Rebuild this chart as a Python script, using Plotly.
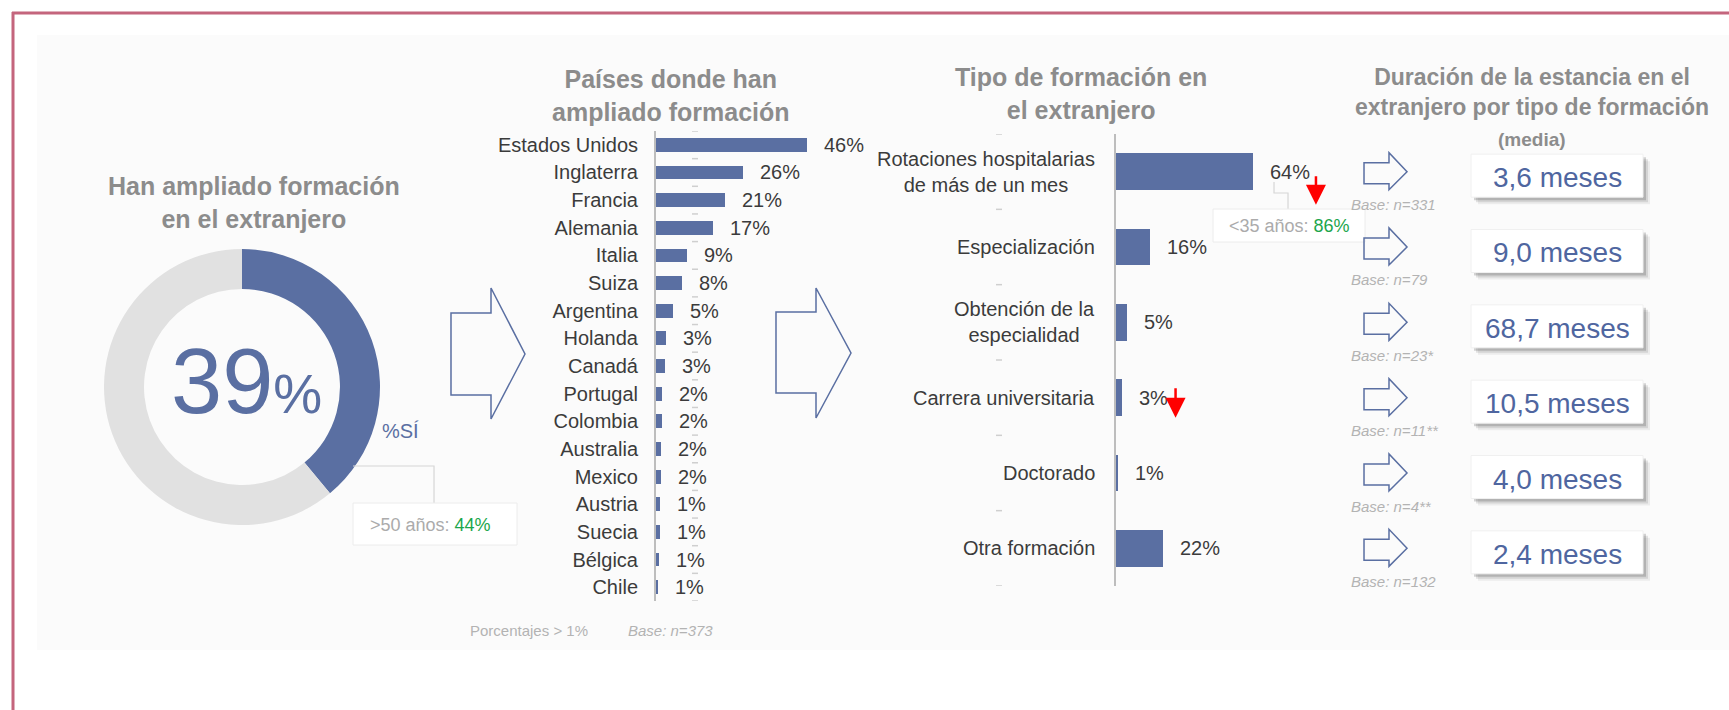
import plotly.graph_objects as go

W, H = 1729, 710

# ---- datos ----
donut_labels = ["Sí", "No"]
donut_valores = [39, 61]
mayores50_pct = 44
menores35_pct = 86

paises = ["Estados Unidos", "Inglaterra", "Francia", "Alemania", "Italia", "Suiza",
          "Argentina", "Holanda", "Canadá", "Portugal", "Colombia", "Australia",
          "Mexico", "Austria", "Suecia", "Bélgica", "Chile"]
paises_pct = [46, 26.4, 20.9, 17.3, 9.3, 7.9, 5.3, 3.1, 2.6, 1.8, 1.8, 1.6, 1.6,
              1.2, 1.1, 0.8, 0.7]
base_paises = "n=373"

tipos = ["Rotaciones hospitalarias<br>de más de un mes", "Especialización",
         "Obtención de la<br>especialidad", "Carrera universitaria", "Doctorado",
         "Otra formación"]
tipos_pct = [64, 15.9, 5.1, 2.6, 0.9, 22]

duracion_meses = [3.6, 9.0, 68.7, 10.5, 4.0, 2.4]
duracion_base = ["n=331", "n=79", "n=23*", "n=11**", "n=4**", "n=132"]

# ---- estilo ----
FONT = "Liberation Sans, Arial, sans-serif"
AZUL = "#5a6fa2"
GRIS_DONUT = "#e1e1e1"
TITULO = "#8c8c8c"
TEXTO = "#3b3b3b"
GRIS_NOTA = "#b3b3b3"
VERDE = "#1ca64c"
ROJO = "#ff0000"
BORDE = "#c4657d"


def px(x):
    return x / W


def py(y):
    return 1 - y / H


# geometria de los ejes (pixeles)
Y1_TOP, Y1_BOT = 131, 601
Y2_TOP, Y2_BOT = 134, 586
X1_0, X2_0 = 656, 1116

fig = go.Figure()

# donut
fig.add_trace(go.Pie(
    labels=donut_labels, values=donut_valores, hole=0.71, sort=False,
    direction="clockwise", rotation=0,
    marker=dict(colors=[AZUL, GRIS_DONUT], line=dict(width=0)),
    textinfo="none", hoverinfo="skip", showlegend=False,
    domain=dict(x=[px(104), px(380)], y=[py(525), py(249)]),
))

# barras paises
fig.add_trace(go.Bar(
    x=paises_pct, y=list(range(len(paises))), orientation="h", width=0.5,
    marker=dict(color=AZUL, line=dict(width=0)), xaxis="x", yaxis="y",
    hoverinfo="skip", showlegend=False,
))

# barras tipo de formacion
fig.add_trace(go.Bar(
    x=tipos_pct, y=list(range(len(tipos))), orientation="h", width=0.49,
    marker=dict(color=AZUL, line=dict(width=0)), xaxis="x2", yaxis="y2",
    hoverinfo="skip", showlegend=False,
))

shapes = []
ann = []

# fondo y borde
shapes.append(dict(type="rect", xref="paper", yref="paper", layer="below",
                   x0=px(37), x1=px(1729), y0=py(650), y1=py(35),
                   fillcolor="#fbfbfb", line=dict(width=0)))
shapes.append(dict(type="line", xref="paper", yref="paper", x0=px(12), x1=1,
                   y0=py(13), y1=py(13), line=dict(color=BORDE, width=3)))
shapes.append(dict(type="line", xref="paper", yref="paper", x0=px(13), x1=px(13),
                   y0=0, y1=py(12), line=dict(color=BORDE, width=3)))


def flecha(x0, xb, xt, yc, hb0, hb1, hh0, hh1, color=AZUL, w=1.5):
    pts = [(x0, yc - hb0), (xb, yc - hb0), (xb, yc - hh0), (xt, yc),
           (xb, yc + hh1), (xb, yc + hb1), (x0, yc + hb1)]
    path = "M " + " L ".join(f"{px(a):.5f},{py(b):.5f}" for a, b in pts) + " Z"
    return dict(type="path", xref="paper", yref="paper", path=path,
                line=dict(color=color, width=w), fillcolor="rgba(0,0,0,0)")


# flechas grandes
shapes.append(flecha(451, 491, 525, 354, 41, 41, 66, 65))
shapes.append(flecha(776, 816, 851, 353, 41, 40, 65, 65))

# titulos
def titulo(texto, x, y, size=25):
    ann.append(dict(xref="paper", yref="paper", x=px(x), y=py(y), text=f"<b>{texto}</b>",
                    showarrow=False, xanchor="center", yanchor="middle",
                    font=dict(family=FONT, size=size, color=TITULO)))


titulo("Han ampliado formación<br>en el extranjero", 254, 202)
titulo("Países donde han<br>ampliado formación", 671, 95)
titulo("Tipo de formación en<br>el extranjero", 1081, 93)
titulo("Duración de la estancia en el<br>extranjero por tipo de formación", 1532, 92, 23)
titulo("(media)", 1532, 140, 19)

# donut textos
ann.append(dict(xref="paper", yref="paper", x=px(246), y=py(381),
                text=f"{donut_valores[0]}<span style='font-size:55px'>%</span>",
                showarrow=False, xanchor="center", yanchor="middle",
                font=dict(family=FONT, size=92, color=AZUL)))
ann.append(dict(xref="paper", yref="paper", x=px(380), y=py(431), text="%SÍ",
                showarrow=False, xanchor="left", yanchor="middle",
                font=dict(family=FONT, size=20, color=AZUL)))

# callout >50
shapes.append(dict(type="path", xref="paper", yref="paper",
                   path=f"M {px(353)},{py(466)} L {px(434)},{py(466)} L {px(434)},{py(503)}",
                   line=dict(color="#d6d6d6", width=1.2)))
shapes.append(dict(type="rect", xref="paper", yref="paper", x0=px(353), x1=px(517),
                   y0=py(545), y1=py(503), fillcolor="white",
                   line=dict(color="#ececec", width=1)))
ann.append(dict(xref="paper", yref="paper", x=px(368), y=py(525),
                text=f"&gt;50 años: <span style='color:{VERDE}'>{mayores50_pct}%</span>",
                showarrow=False, xanchor="left", yanchor="middle",
                font=dict(family=FONT, size=18, color="#ababab")))

# etiquetas barras paises
for i, v in enumerate(paises_pct):
    ann.append(dict(xref="x", yref="y", x=v, y=i, text=f"{v:.0f}%", showarrow=False,
                    xanchor="left", yanchor="middle", xshift=15,
                    font=dict(family=FONT, size=20, color=TEXTO)))
for i in range(len(paises) + 1):
    shapes.append(dict(type="line", xref="paper", yref="y", x0=px(692), x1=px(698),
                       y0=i - 0.5, y1=i - 0.5, line=dict(color="#cfcfcf", width=1.5)))

ann.append(dict(xref="paper", yref="paper", x=px(468), y=py(630), text="Porcentajes > 1%",
                showarrow=False, xanchor="left", yanchor="middle",
                font=dict(family=FONT, size=15, color=GRIS_NOTA)))
ann.append(dict(xref="paper", yref="paper", x=px(626), y=py(630),
                text=f"<i>Base: {base_paises}</i>",
                showarrow=False, xanchor="left", yanchor="middle",
                font=dict(family=FONT, size=15, color=GRIS_NOTA)))

# etiquetas tipo de formacion
for i, (t, v) in enumerate(zip(tipos, tipos_pct)):
    ann.append(dict(xref="x2", yref="y2", x=0, y=i, text=t, showarrow=False,
                    xanchor="right", yanchor="middle", align="center", xshift=-19,
                    font=dict(family=FONT, size=20, color=TEXTO)))
    ann.append(dict(xref="x2", yref="y2", x=v, y=i, text=f"{v:.0f}%", showarrow=False,
                    xanchor="left", yanchor="middle", xshift=15,
                    font=dict(family=FONT, size=20, color=TEXTO)))
for i in range(len(tipos) + 1):
    shapes.append(dict(type="line", xref="paper", yref="y2", x0=px(996), x1=px(1002),
                       y0=i - 0.5, y1=i - 0.5, line=dict(color="#cfcfcf", width=1.5)))

# flechas rojas (descenso)
for i, dx, dy, ay in [(0, 63, -33, -30), (3, 54, -20, -31)]:
    ann.append(dict(xref="x2", yref="y2", x=tipos_pct[i], y=i, text="", showarrow=True,
                    ax=0, ay=ay, xshift=dx, yshift=dy, arrowhead=2, arrowsize=1.6,
                    arrowwidth=2.5, arrowcolor=ROJO))

# callout <35
shapes.append(dict(type="path", xref="paper", yref="paper",
                   path=(f"M {px(1274)},{py(182)} L {px(1274)},{py(193)} "
                         f"L {px(1288)},{py(193)} L {px(1288)},{py(209)}"),
                   line=dict(color="#d6d6d6", width=1.2)))
shapes.append(dict(type="rect", xref="paper", yref="paper", x0=px(1213), x1=px(1365),
                   y0=py(242), y1=py(209), fillcolor="white",
                   line=dict(color="#ececec", width=1)))
ann.append(dict(xref="paper", yref="paper", x=px(1289), y=py(226),
                text=f"&lt;35 años: <span style='color:{VERDE}'>{menores35_pct}%</span>",
                showarrow=False, xanchor="center", yanchor="middle",
                font=dict(family=FONT, size=18, color="#ababab")))

# panel derecho: duracion media
row = (Y2_BOT - Y2_TOP) / len(tipos)
for i, (m, b) in enumerate(zip(duracion_meses, duracion_base)):
    yc = Y2_TOP + (i + 0.5) * row
    shapes.append(flecha(1364, 1389, 1407, yc, 9, 12, 19, 18))
    ann.append(dict(xref="paper", yref="paper", x=px(1349), y=py(yc + 33),
                    text=f"<i>Base: {b}</i>", showarrow=False, xanchor="left",
                    yanchor="middle", font=dict(family=FONT, size=15, color=GRIS_NOTA)))
    bc = yc + 4
    for off, alpha in [(7, 0.06), (5, 0.1), (3, 0.16)]:
        shapes.append(dict(type="rect", xref="paper", yref="paper",
                           x0=px(1471 + off), x1=px(1643 + off),
                           y0=py(bc + 21.5 + off), y1=py(bc - 21.5 + off),
                           fillcolor=f"rgba(0,0,0,{alpha})", line=dict(width=0)))
    shapes.append(dict(type="rect", xref="paper", yref="paper", x0=px(1471), x1=px(1643),
                       y0=py(bc + 21.5), y1=py(bc - 21.5), fillcolor="white",
                       line=dict(color="#f0f0f0", width=1)))
    ann.append(dict(xref="paper", yref="paper", x=px(1557), y=py(yc + 6),
                    text=f"{m:.1f}".replace(".", ",") + " meses", showarrow=False,
                    xanchor="center", yanchor="middle",
                    font=dict(family=FONT, size=28, color="#4f66a0")))

fig.update_layout(
    width=W, height=H,
    margin=dict(l=0, r=0, t=0, b=0),
    paper_bgcolor="white",
    plot_bgcolor="rgba(0,0,0,0)",
    font=dict(family=FONT, color=TEXTO),
    showlegend=False,
    bargap=0,
    xaxis=dict(domain=[px(X1_0), px(X1_0 + 50 * 3.28)], range=[0, 50], visible=False,
               anchor="y", fixedrange=True),
    yaxis=dict(domain=[py(Y1_BOT), py(Y1_TOP)], range=[len(paises) - 0.5, -0.5],
               tickvals=list(range(len(paises))), ticktext=paises, ticks="",
               ticklabelstandoff=12, tickfont=dict(size=20, color=TEXTO, family=FONT),
               showline=True, linecolor="#bdbdbd", linewidth=2, showgrid=False,
               zeroline=False, anchor="x", fixedrange=True),
    xaxis2=dict(domain=[px(X2_0), px(X2_0 + 70 * 2.14)], range=[0, 70], visible=False,
                anchor="y2", fixedrange=True),
    yaxis2=dict(domain=[py(Y2_BOT), py(Y2_TOP)], range=[len(tipos) - 0.5, -0.5],
                showticklabels=False, ticks="", showline=True, linecolor="#bdbdbd",
                linewidth=2, showgrid=False, zeroline=False, anchor="x2",
                fixedrange=True),
    shapes=shapes,
    annotations=ann,
)

fig.write_html("out.html", config={"displayModeBar": False},
               post_script="document.body.style.margin='0';")
